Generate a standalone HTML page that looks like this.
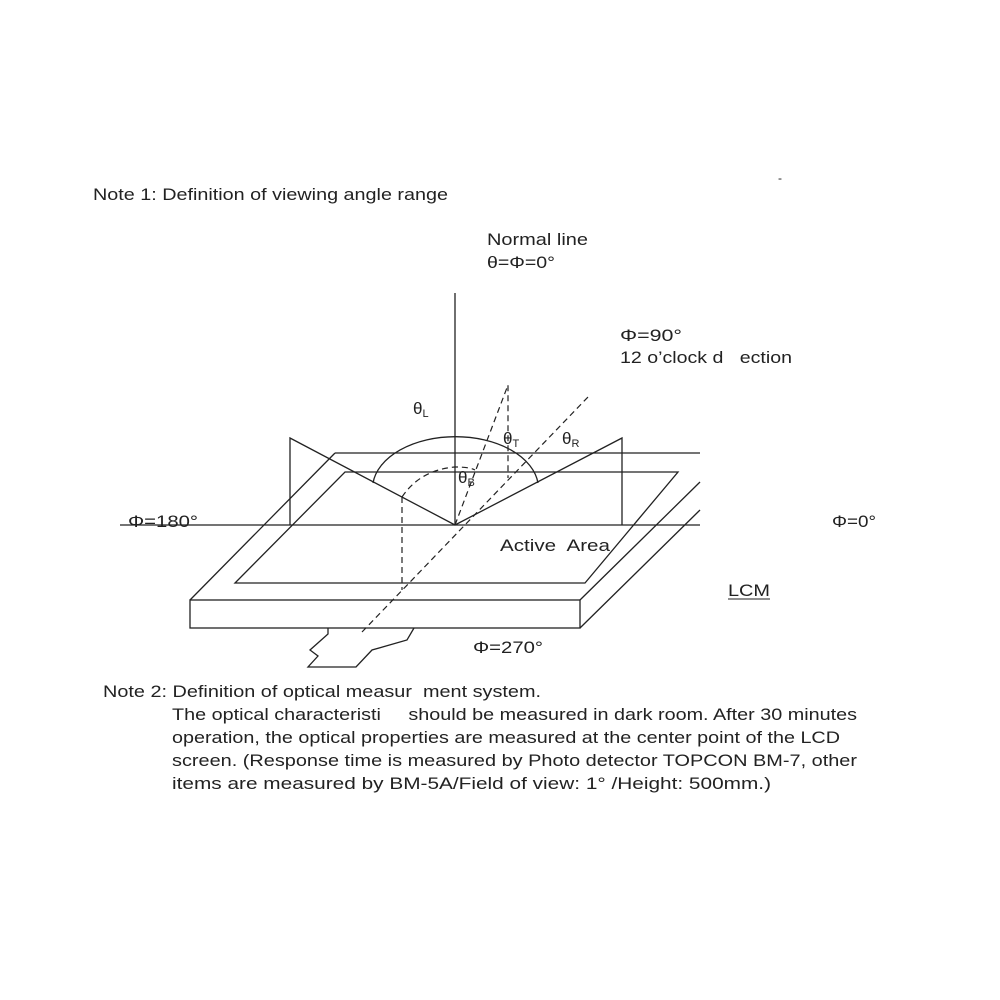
<!DOCTYPE html>
<html><head><meta charset="utf-8"><style>
html,body{margin:0;padding:0;background:#fff}
svg{display:block}
text{font-family:"Liberation Sans",sans-serif;font-size:17px;fill:#222;white-space:pre}
</style></head><body>
<svg width="1000" height="1000" viewBox="0 0 1000 1000" xmlns="http://www.w3.org/2000/svg" xml:space="preserve">
<g stroke="#222" stroke-width="1.3" fill="none">
<line x1="455" y1="293" x2="455" y2="525"/>
<line x1="120" y1="525" x2="700" y2="525"/>
<line x1="335" y1="453" x2="700" y2="453"/>
<polygon points="345,472 678,472 585,583 235,583"/>
<line x1="335" y1="453" x2="190" y2="600"/>
<rect x="190" y="600" width="390" height="28"/>
<line x1="580" y1="600" x2="700" y2="482"/>
<line x1="580" y1="628" x2="700" y2="510"/>
<polyline points="290,525 290,438 455,525 622,438 622,525"/>
<path d="M373,483 A83,52 0 0 1 538,483"/>
<polyline points="328,628 328,634 310,650 318,656 308,667 356,667 372,650 407,640 414,628"/>
</g>
<g stroke="#222" stroke-width="1.2" fill="none" stroke-dasharray="6,4">
<path d="M402,497 Q420,470 455,467 Q470,467 475,470"/>
<line x1="402" y1="497" x2="402" y2="590"/>
<line x1="362" y1="632" x2="588" y2="397"/>
<polyline points="455,525 508,385 508,478"/>
</g>
<text x="778" y="182" textLength="6" style="font-size:12px">-</text>
<text x="93" y="200" textLength="355" lengthAdjust="spacingAndGlyphs">Note 1: Definition of viewing angle range</text>
<text x="487" y="245" textLength="101" lengthAdjust="spacingAndGlyphs">Normal line</text>
<text x="487" y="268" textLength="68" lengthAdjust="spacingAndGlyphs">θ=Φ=0°</text>
<text x="620" y="341" textLength="62" lengthAdjust="spacingAndGlyphs">Φ=90°</text>
<text x="620" y="363" textLength="172" lengthAdjust="spacingAndGlyphs">12 o’clock d   ection</text>
<text x="413" y="414">θ<tspan style="font-size:11px" dy="3">L</tspan></text>
<text x="503" y="444">θ<tspan style="font-size:11px" dy="3">T</tspan></text>
<text x="562" y="444">θ<tspan style="font-size:11px" dy="3">R</tspan></text>
<text x="458" y="483">θ<tspan style="font-size:11px" dy="3">B</tspan></text>
<text x="128" y="527" textLength="70" lengthAdjust="spacingAndGlyphs">Φ=180°</text>
<text x="832" y="527" textLength="44" lengthAdjust="spacingAndGlyphs">Φ=0°</text>
<text x="500" y="551" textLength="110" lengthAdjust="spacingAndGlyphs">Active  Area</text>
<text x="728" y="596" textLength="42" lengthAdjust="spacingAndGlyphs">LCM</text>
<line x1="728" y1="599" x2="770" y2="599" stroke="#222" stroke-width="1"/>
<text x="473" y="653" textLength="70" lengthAdjust="spacingAndGlyphs">Φ=270°</text>
<text x="103" y="697" textLength="438" lengthAdjust="spacingAndGlyphs">Note 2: Definition of optical measur  ment system.</text>
<text x="172" y="720" textLength="685" lengthAdjust="spacingAndGlyphs">The optical characteristi     should be measured in dark room. After 30 minutes</text>
<text x="172" y="743" textLength="668" lengthAdjust="spacingAndGlyphs">operation, the optical properties are measured at the center point of the LCD</text>
<text x="172" y="766" textLength="685" lengthAdjust="spacingAndGlyphs">screen. (Response time is measured by Photo detector TOPCON BM-7, other</text>
<text x="172" y="789" textLength="599" lengthAdjust="spacingAndGlyphs">items are measured by BM-5A/Field of view: 1° /Height: 500mm.)</text>
</svg>
</body></html>
